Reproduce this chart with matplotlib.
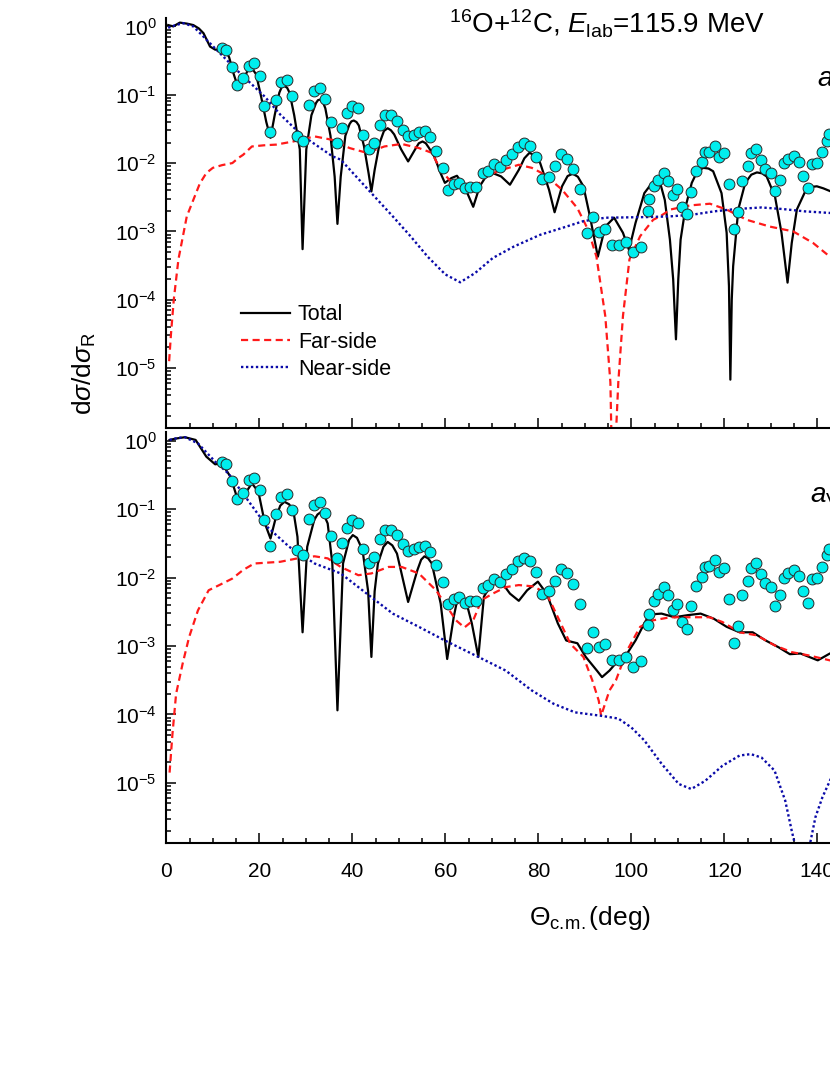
import numpy as np
import matplotlib
matplotlib.use('Agg')
import matplotlib.pyplot as plt
from matplotlib.ticker import LogLocator, LogFormatterSciNotation, MultipleLocator, NullFormatter

plt.rcParams['font.family'] = ['Liberation Sans', 'DejaVu Sans']
plt.rcParams['mathtext.fontset'] = 'custom'
plt.rcParams['mathtext.rm'] = 'Liberation Sans'
plt.rcParams['mathtext.it'] = 'Liberation Sans:italic'
plt.rcParams['mathtext.bf'] = 'Liberation Sans:bold'
plt.rcParams['axes.unicode_minus'] = False

# experimental data (deg, log10 of ratio)
exp_deg = [11.9, 12.9, 14.1, 15.2, 16.5, 17.7, 18.9, 20.1, 21.1, 22.3, 23.5, 24.7, 25.9,
           27.1, 28.2, 29.4, 30.6, 31.7, 33.0, 34.2, 35.4, 36.6, 37.7, 38.9, 40.0, 41.3,
           42.4, 43.6, 44.7, 45.9, 47.1, 48.4, 49.6, 50.8, 52.0, 53.2, 54.4, 55.6, 56.8,
           58.1, 59.4, 60.5, 61.8, 63.0, 64.2, 65.4, 66.6, 68.0, 69.2, 70.5, 71.7, 73.0,
           74.3, 75.6, 76.9, 78.2, 79.5, 80.8, 82.2, 83.5, 84.9, 86.2, 87.5, 88.9, 90.4,
           91.7, 93.1, 94.4, 95.9, 97.4, 98.9, 100.4, 102.0, 103.6, 103.9, 104.9, 105.8,
           107.0, 107.9, 108.9, 109.9, 111.0, 111.9, 112.9, 114.0, 115.1, 115.9, 116.8,
           117.9, 118.8, 120.0, 121.0, 122.1, 122.9, 123.9, 125.0, 125.8, 126.9, 127.9,
           128.8, 130.0, 130.9, 131.9, 132.8, 133.8, 134.9, 136.0, 136.9, 137.9, 138.9,
           139.9, 141.0, 142.0, 142.5]
exp_log = [-0.316, -0.341, -0.59, -0.858, -0.761, -0.575, -0.54, -0.72, -1.161, -1.54,
           -1.073, -0.82, -0.78, -1.015, -1.6, -1.678, -1.146, -0.94, -0.9, -1.063, -1.395,
           -1.713, -1.493, -1.274, -1.161, -1.2, -1.586, -1.795, -1.707, -1.44, -1.3, -1.3,
           -1.38, -1.51, -1.61, -1.586, -1.55, -1.537, -1.625, -1.82, -2.069, -2.39, -2.31,
           -2.29, -2.37, -2.35, -2.35, -2.15, -2.11, -2.02, -2.06, -1.95, -1.87, -1.76,
           -1.713, -1.757, -1.918, -2.235, -2.2, -2.05, -1.874, -1.94, -2.09, -2.38, -3.03,
           -2.79, -3.016, -2.97, -3.2, -3.2, -3.16, -3.3, -3.225, -2.7, -2.53, -2.34, -2.245,
           -2.14, -2.26, -2.47, -2.38, -2.65, -2.75, -2.42, -2.12, -1.99, -1.845, -1.835,
           -1.747, -1.918, -1.855, -2.31, -2.96, -2.71, -2.26, -2.05, -1.855, -1.795, -1.95,
           -2.08, -2.14, -2.41, -2.25, -2.0, -1.94, -1.89, -1.98, -2.19, -2.37, -2.02, -2.0,
           -1.845, -1.67, -1.58]

# upper panel curves
tot1_deg = [0.4, 1.5, 2.9, 4.5, 5.8, 7.0, 8.0, 9.4, 10.5, 11.5, 12.5, 13.5, 14.5, 15.6, 16.5,
            17.5, 18.4, 19.3, 20.3, 21.5, 22.4, 23.3, 24.3, 24.8, 25.4, 26.0, 26.5, 27.5,
            28.7, 29.3, 30.1, 31.2, 32.2, 32.6, 33.1, 33.7, 34.2, 35.3, 36.2, 36.8, 37.5,
            38.5, 39.4, 39.8, 40.3, 40.9, 41.4, 42.5, 43.5, 44.1, 44.8, 45.9, 46.8, 47.6,
            48.3, 49.0, 50.5, 52.0, 53.5, 54.3, 55.1, 55.8, 56.5, 57.6, 59.0, 59.9, 61.3,
            62.5, 64.1, 66.0, 67.4, 68.8, 70.2, 72.0, 73.9, 75.8, 77.0, 78.1, 79.3, 80.4,
            82.3, 83.5, 85.1, 86.3, 87.4, 88.5, 89.7, 91.1, 92.8, 94.4, 96.3, 98.2, 99.5,
            100.9, 102.8, 104.7, 105.6, 106.2, 107.2, 108.3, 109.0, 109.6, 110.1, 110.6,
            111.7, 113.0, 114.2, 115.5, 116.6, 117.6, 119.4, 120.5, 121.0, 121.3, 121.6,
            121.9, 123.0, 124.5, 125.8, 127.0, 128.1, 129.1, 130.9, 132.3, 133.6, 134.5,
            135.6, 137.4, 138.6, 139.9, 141.3, 142.7, 143.5]
tot1_log = [0.02, 0.0, 0.056, 0.04, 0.02, -0.03, -0.10, -0.295, -0.34, -0.34, -0.33, -0.45,
            -0.70, -0.93, -0.80, -0.64, -0.61, -0.70, -1.00, -1.40, -1.63, -1.30, -0.97,
            -0.89, -0.87, -0.90, -0.97, -1.30, -1.80, -3.26, -1.80, -1.30, -1.12, -1.08,
            -1.07, -1.11, -1.20, -1.60, -2.20, -2.89, -2.20, -1.60, -1.43, -1.39, -1.377,
            -1.40, -1.45, -1.75, -2.15, -2.415, -2.10, -1.70, -1.53, -1.49, -1.52, -1.58,
            -1.80, -1.976, -1.80, -1.71, -1.684, -1.71, -1.78, -1.90, -2.15, -2.29, -2.22,
            -2.186, -2.34, -2.64, -2.34, -2.19, -2.146, -2.196, -2.317, -2.10, -1.93, -1.85,
            -1.89, -2.0, -2.39, -2.72, -2.34, -2.19, -2.156, -2.20, -2.34, -2.78, -3.37,
            -2.93, -2.80, -3.02, -3.27, -2.877, -2.44, -2.27, -2.244, -2.29, -2.54, -3.12,
            -3.7, -4.58, -3.7, -3.12, -2.63, -2.29, -2.12, -2.07, -2.08, -2.12, -2.44, -3.02,
            -3.8, -5.17, -4.0, -3.51, -2.68, -2.29, -2.17, -2.137, -2.15, -2.196, -2.49,
            -3.02, -3.75, -3.17, -2.68, -2.415, -2.35, -2.34, -2.37, -2.41, -2.43]

far1_deg = [0.6, 1.0, 1.6, 2.6, 4.4, 5.8, 7.2, 8.6, 10.0, 12.0, 14.2, 15.6, 16.5, 18.4, 21.0,
            23.6, 27.3, 31.9, 35.7, 39.4, 43.1, 46.9, 50.6, 54.3, 57.1, 59.0, 60.8, 63.6,
            66.0, 68.3, 71.2, 75.8, 78.6, 81.4, 85.1, 88.4, 90.7, 92.5, 94.4, 95.5, 96.0,
            97.2, 98.2, 99.6, 101.9, 104.7, 106.2, 108.4, 112.6, 116.9, 120.5, 124.8, 129.8,
            134.8, 139.1, 142.7, 143.5]
far1_log = [-4.9, -4.5, -4.0, -3.41, -2.78, -2.54, -2.3, -2.146, -2.07, -2.03, -2.0, -1.92,
            -1.88, -1.757, -1.74, -1.73, -1.684, -1.61, -1.66, -1.78, -1.85, -1.757, -1.72,
            -1.78, -1.85, -2.1, -2.24, -2.39, -2.39, -2.22, -2.12, -2.025, -2.07, -2.17,
            -2.39, -2.66, -2.975, -3.37, -4.24, -5.21, -7.0, -5.21, -4.24, -3.41, -3.07,
            -2.83, -2.78, -2.68, -2.62, -2.595, -2.68, -2.83, -2.93, -3.0, -3.17, -3.37,
            -3.42]

near1_deg = [0.4, 2.0, 3.7, 5.8, 8.0, 10.1, 15.1, 21.2, 24.5, 29.1, 35.7, 37.5, 44.1, 48.7,
             52.5, 56.2, 60.0, 63.2, 66.4, 70.2, 74.8, 80.4, 85.1, 89.7, 94.4, 99.0, 103.7,
             108.4, 113.1, 117.8, 122.4, 128.0, 132.6, 137.3, 142.7, 143.5]
near1_log = [-0.02, 0.02, 0.047, 0.0, -0.15, -0.295, -0.636, -1.03, -1.29, -1.59, -1.9,
             -1.95, -2.44, -2.78, -3.07, -3.37, -3.63, -3.745, -3.61, -3.39, -3.22, -3.05,
             -2.95, -2.85, -2.80, -2.795, -2.79, -2.78, -2.756, -2.707, -2.673, -2.65,
             -2.673, -2.707, -2.73, -2.735]

# lower panel curves
tot2_deg = [0.7, 2.0, 4.0, 6.3, 8.6, 10.5, 11.9, 13.8, 15.6, 16.5, 18.4, 19.8, 21.2, 22.4,
            23.5, 24.5, 25.4, 26.4, 27.3, 28.2, 29.3, 30.3, 31.8, 32.5, 33.3, 34.0, 34.7,
            35.7, 36.8, 38.0, 39.3, 40.1, 41.0, 42.2, 43.4, 44.1, 44.8, 45.5, 46.7, 47.6,
            48.6, 49.6, 52.0, 54.0, 54.8, 55.5, 56.3, 57.1, 59.0, 60.4, 61.8, 62.7, 64.4,
            65.7, 67.1, 68.3, 70.2, 71.8, 73.9, 75.8, 77.6, 79.9, 81.8, 84.2, 86.0, 88.4,
            90.2, 92.6, 93.7, 95.3, 97.2, 99.1, 100.9, 102.8, 103.9, 106.5, 109.3, 112.1,
            114.9, 117.7, 120.5, 123.3, 126.1, 128.9, 131.7, 134.1, 136.4, 140.1, 142.7,
            143.5]
tot2_log = [0.01, 0.03, 0.05, 0.01, -0.234, -0.346, -0.33, -0.527, -0.917, -0.82, -0.624,
            -0.747, -1.21, -1.43, -1.136, -0.95, -0.893, -0.93, -1.015, -1.405, -2.8, -1.55,
            -1.16, -1.08, -1.04, -1.10, -1.21, -1.795, -3.94, -1.795, -1.45, -1.38, -1.42,
            -1.6, -2.2, -3.16, -2.2, -1.795, -1.55, -1.48, -1.53, -1.65, -2.357, -1.89,
            -1.74, -1.69, -1.72, -1.795, -2.38, -3.19, -2.58, -2.28, -2.33, -2.67, -3.16,
            -2.28, -2.06, -2.04, -2.235, -2.34, -2.186, -2.06, -2.235, -2.67, -2.92, -2.96,
            -3.16, -3.36, -3.455, -3.36, -3.21, -3.11, -2.92, -2.67, -2.54, -2.527, -2.58,
            -2.55, -2.527, -2.6, -2.72, -2.8, -2.8, -2.92, -3.02, -3.12, -3.11, -3.21, -3.11,
            -3.1]

far2_deg = [0.7, 1.3, 2.1, 3.5, 4.9, 6.8, 9.1, 11.4, 14.2, 16.5, 18.9, 24.5, 28.2, 31.9,
            34.7, 37.5, 41.3, 44.1, 47.8, 50.6, 54.3, 58.0, 60.4, 62.3, 64.1, 66.0, 67.8,
            70.2, 73.0, 75.8, 79.0, 81.8, 84.2, 86.9, 89.7, 91.6, 93.0, 93.5, 95.3, 96.7,
            99.1, 101.9, 104.7, 108.4, 113.1, 116.8, 119.6, 123.3, 127.0, 130.8, 134.5,
            138.3, 142.7, 143.5]
far2_log = [-4.85, -4.3, -3.7, -3.26, -2.87, -2.48, -2.186, -2.11, -2.015, -1.89, -1.795,
            -1.77, -1.72, -1.69, -1.72, -1.845, -1.966, -1.94, -1.845, -1.845, -1.94, -2.186,
            -2.43, -2.625, -2.73, -2.625, -2.33, -2.235, -2.14, -2.11, -2.13, -2.235, -2.58,
            -2.97, -3.16, -3.5, -3.8, -4.02, -3.65, -3.5, -3.065, -2.72, -2.625, -2.58, -2.58,
            -2.58, -2.65, -2.8, -2.845, -2.99, -3.09, -3.14, -3.21, -3.22]

near2_deg = [0.7, 2.5, 4.0, 6.8, 10.5, 13.3, 17.0, 21.7, 26.4, 31.9, 37.5, 43.1, 48.7, 54.3,
             59.9, 67.1, 73.0, 78.6, 83.3, 87.9, 93.5, 97.2, 100.0, 102.8, 106.5, 110.2,
             112.9, 115.9, 119.6, 123.3, 125.7, 128.0, 130.8, 133.1, 134.5, 135.2, 135.8,
             137.8, 138.4, 139.6, 141.1, 142.7, 143.5]
near2_log = [0.01, 0.04, 0.05, -0.04, -0.307, -0.477, -0.82, -1.26, -1.55, -1.795, -1.94,
             -2.235, -2.527, -2.72, -2.92, -3.16, -3.36, -3.65, -3.845, -3.97, -4.02, -4.06,
             -4.19, -4.38, -4.72, -5.016, -5.09, -4.97, -4.75, -4.60, -4.58, -4.63, -4.82,
             -5.26, -5.70, -5.9, -7.0, -7.0, -5.9, -5.5, -5.21, -4.97, -4.85]


def style_axis(ax):
    ax.set_yscale('log')
    ax.set_xlim(0, 180)
    ax.set_ylim(10 ** -5.885, 10 ** 0.124)
    ax.xaxis.set_major_locator(MultipleLocator(20))
    ax.xaxis.set_minor_locator(MultipleLocator(5))
    ax.yaxis.set_major_locator(LogLocator(base=10, numticks=12))
    ax.yaxis.set_minor_locator(LogLocator(base=10, subs=np.arange(2, 10), numticks=12))
    ax.yaxis.set_major_formatter(LogFormatterSciNotation())
    ax.yaxis.set_minor_formatter(NullFormatter())
    ax.tick_params(which='both', direction='in', width=1.1, top=False, right=False,
                   labelsize=15)
    ax.tick_params(which='major', length=7.5)
    ax.tick_params(which='minor', length=3.8)
    ax.tick_params(axis='x', pad=13)
    ax.tick_params(axis='y', pad=7)
    for s in ax.spines.values():
        s.set_linewidth(1.5)
    ax.spines['top'].set_visible(False)
    ax.spines['right'].set_visible(False)


def draw(ax, tot_d, tot_l, far_d, far_l, near_d, near_l):
    ax.plot(tot_d, 10 ** np.array(tot_l), color='black', lw=1.6, label='Total')
    ax.plot(far_d, 10 ** np.array(far_l), color='#FF1A1A', lw=1.6,
            linestyle=(0, (3.2, 2.0)), label='Far-side')
    ax.plot(near_d, 10 ** np.array(near_l), color='#0A0AA8', lw=1.7,
            linestyle=(0, (1, 1.1)), label='Near-side')
    ax.plot(exp_deg, 10 ** np.array(exp_log), 'o', ms=7.8, mfc='#00EEEE', mec='#2a2a2a',
            mew=0.7, zorder=5)


fig = plt.figure(figsize=(8.3, 10.75), dpi=100)
ax1 = fig.add_axes([0.2004, 0.6014, 1.0084, 0.3819])
ax2 = fig.add_axes([0.2004, 0.2154, 1.0084, 0.3826])

draw(ax1, tot1_deg, tot1_log, far1_deg, far1_log, near1_deg, near1_log)
draw(ax2, tot2_deg, tot2_log, far2_deg, far2_log, near2_deg, near2_log)
style_axis(ax1)
style_axis(ax2)
ax1.tick_params(labelbottom=False)

ax1.legend(loc='upper left', bbox_to_anchor=(0.089, 0.303), frameon=False, fontsize=15.5,
           handlelength=2.3, handletextpad=0.35, labelspacing=0.3, borderpad=0,
           borderaxespad=0)

ax1.text(139.9, 10 ** -0.885, r'$a_{\rm W}$', fontsize=20, ha='left', va='baseline')
ax2.text(138.4, 10 ** -0.9, r'$a_{\rm V}$', fontsize=20, ha='left', va='baseline')

fig.text(607 / 830, 1 - 33.3 / 1075, r'$^{16}$O+$^{12}$C, $E_{\rm lab}$=115.9 MeV',
         fontsize=20, ha='center', va='baseline')
fig.text(590 / 830, 1 - 925 / 1075, r'$\Theta_{\rm c.\!m.}$(deg)', fontsize=19,
         ha='center', va='baseline')
fig.text(84 / 830, 1 - 374 / 1075, r'd$\sigma$/d$\sigma_{\rm R}$', fontsize=19,
         rotation=90, ha='center', va='center')

fig.savefig('out.png', dpi=100)
